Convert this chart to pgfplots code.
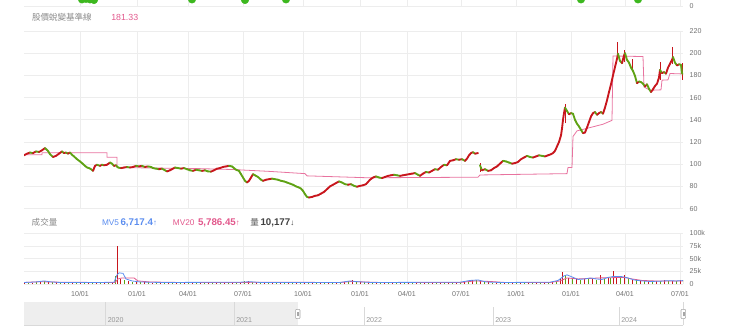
\documentclass[border=0pt]{standalone}
\usepackage{pgfplots}
\pgfplotsset{compat=1.18}
\usepackage{fontspec}
\setmainfont{Liberation Sans}
\newfontfamily\cjk{Noto Sans CJK TC}
\definecolor{candr}{HTML}{C8161D}
\definecolor{candg}{HTML}{5FA214}
\definecolor{basel}{HTML}{E8739F}
\definecolor{gridc}{HTML}{EDEDED}
\definecolor{tickc}{HTML}{707070}
\definecolor{mvblue}{HTML}{5B8DEF}
\definecolor{mvpink}{HTML}{E2588C}
\definecolor{dotg}{HTML}{3DB81F}
\definecolor{navfill}{HTML}{EEEEEE}
\definecolor{navline}{HTML}{D9D9D9}
\definecolor{hdr}{HTML}{8A8A8A}
\tikzset{yearlab/.style={anchor=base west, inner sep=0pt, font=\fontsize{5.3}{6}\selectfont, text=hdr!90}}
\pgfplotsset{
  panel/.style={
    scale only axis, width=494.25pt, xmin=24, xmax=683,
    anchor=south west,
    axis line style={draw=none}, major tick length=0pt,
    xtick={80,137,188,243,303,360,407,461,516,571,625,680},
    xmajorgrids, ymajorgrids,
    grid style={gridc, line width=0.6pt},
    ticklabel style={font=\fontsize{5.3}{6}\selectfont, text=tickc},
    /pgf/number format/assume math mode=true,
    yticklabel pos=right,
    yticklabel style={anchor=west, inner sep=0pt, xshift=4.8pt},
    xticklabel style={anchor=north, inner sep=0pt, yshift=-5.5pt},
  },
}
\begin{document}
\begin{tikzpicture}[x=1pt,y=1pt]
\useasboundingbox (0pt,0pt) rectangle (555pt,252pt);
% ---------- top strip ----------
\begin{axis}[panel, at={(18pt,247.5pt)}, height=9pt, ymin=0, ymax=1, ytick={0}, xticklabels={}, clip=false]
\addplot[only marks, mark=*, mark size=2.8pt, color=dotg, mark options={draw=none, fill=dotg}]
  coordinates {(82,0.55)(86,0.6)(90,0.55)(94,0.5)(192,0.55)(245,0.5)(286,0.55)(581,0.55)(638,0.55)};
\end{axis}
% ---------- price panel ----------
\begin{axis}[panel, at={(18pt,95.55pt)}, height=133.2pt, ymin=60, ymax=220, ytick={60,80,...,220}, xticklabels={},
  colormap={rg}{color=(candg) color=(candr)}, point meta min=0, point meta max=1]
\addplot[basel, line width=0.6pt] coordinates {
(24,108.5)(42,108.5)(42,110.3)(107,110.3)(107,106.3)(117,106.3)(117,97)(150,96.6)(200,96)(233,95.2)(270,93.5)(305,91.5)(307,89.5)(367,87.8)(420,88)(478,88.3)(480,90.3)(567,91.5)(568,97)(572,97)(573,125)(577,130)(603,136)(612,139.5)(613,197.5)(643,197)(644,169.6)(650,166.6)(661,167)(662,175.7)(668,176)(670,181.7)(683,181.3)};
\addplot[candr, line width=0.4pt, unbounded coords=jump] table[row sep=\\] {x y\\
480 93\\480 101\\480 nan\\565 137\\565 154\\565 nan\\617 195\\617 210\\617 nan\\624 192\\624 203\\624 nan\\632 185\\632 195\\632 nan\\660 176\\660 192\\660 nan\\672 190\\672 206\\672 nan\\682 176\\682 191\\};
\addplot[mesh, shader=flat corner, point meta=explicit, line width=1.4pt, line cap=round] table[meta=m, row sep=\\] {x y m\\
24 108.0 1\\27 109.5 1\\30 110.5 0\\33 110.0 1\\36 111.5 0\\39 111.0 1\\42 112.5 1\\45 114.5 0\\48 112.0 0\\50 109.0 0\\53 106.5 1\\56 107.5 1\\59 109.5 1\\62 111.5 0\\64 110.0 1\\66 110.5 0\\68 109.5 1\\70 110.5 0\\72 108.5 0\\74 107.0 0\\77 104.5 0\\80 102.5 0\\82 101.0 0\\85 98.5 0\\87 97.0 0\\89 96.5 0\\91 95.5 0\\93 94.0 1\\95 98.5 1\\97 99.5 0\\100 98.5 1\\102 99.5 0\\104 99.0 1\\107 99.5 1\\110 101.5 0\\112 100.5 0\\114 98.5 1\\116 99.0 0\\118 97.0 0\\121 96.5 1\\124 97.0 1\\127 97.5 0\\130 97.0 1\\133 97.5 1\\136 98.5 0\\139 98.0 1\\142 98.5 0\\145 97.5 1\\148 98.0 0\\151 97.5 0\\153 96.5 0\\156 96.0 0\\159 95.5 1\\162 96.0 0\\165 94.5 0\\167 93.5 1\\170 94.5 1\\172 95.5 1\\175 97.0 0\\178 96.5 0\\181 96.0 1\\184 96.5 0\\187 95.5 0\\190 94.5 0\\193 94.0 1\\196 95.0 0\\199 94.5 0\\202 94.0 1\\205 94.5 0\\208 93.5 0\\211 93.3 1\\214 94.5 1\\217 96.0 1\\220 96.5 1\\223 97.5 1\\226 98.0 1\\229 98.5 0\\232 98.0 0\\234 96.5 0\\236 95.0 0\\239 94.0 0\\241 91.0 0\\243 88.0 0\\245 85.0 0\\247 83.5 1\\249 85.0 1\\251 88.0 1\\253 91.0 0\\255 90.0 0\\258 88.5 0\\261 86.0 0\\263 85.0 1\\266 86.0 1\\269 86.5 1\\272 87.0 0\\275 86.5 0\\278 86.0 0\\281 85.0 0\\284 84.5 0\\287 83.5 0\\290 82.5 0\\293 81.5 0\\296 80.0 0\\299 79.0 0\\301 78.0 0\\303 76.0 0\\305 73.0 0\\307 70.5 0\\309 70.0 1\\312 70.5 1\\315 71.5 1\\318 72.0 1\\321 73.5 1\\324 75.0 1\\327 77.5 1\\330 80.0 1\\333 81.5 1\\336 83.0 1\\339 84.5 0\\342 83.5 0\\345 82.0 0\\348 81.5 1\\351 82.0 0\\354 80.5 0\\357 79.7 1\\360 80.5 1\\363 81.0 1\\366 82.0 1\\368 84.0 1\\370 86.0 1\\373 88.0 1\\376 89.0 0\\379 88.0 0\\382 87.5 1\\385 88.5 1\\388 89.5 1\\391 90.0 1\\394 90.5 0\\397 90.0 0\\400 89.5 1\\403 90.0 1\\406 90.5 1\\409 91.0 1\\412 91.5 1\\415 92.0 0\\418 90.5 0\\420 89.5 1\\423 91.5 1\\426 93.0 0\\429 92.5 1\\432 94.0 1\\435 95.5 0\\438 95.0 1\\441 97.5 1\\444 99.5 0\\447 99.0 1\\450 103.0 1\\453 103.5 1\\456 104.5 0\\459 104.0 1\\462 104.5 0\\465 103.0 1\\467 105.0 1\\469 108.0 1\\471 110.0 1\\473 110.8 0\\475 109.5 1\\478 110.0 0\\};
\addplot[mesh, shader=flat corner, point meta=explicit, line width=1.4pt, line cap=round] table[meta=m, row sep=\\] {x y m\\
480 99.0 0\\482 94.5 1\\485 95.5 0\\488 94.0 1\\491 94.5 1\\494 96.5 1\\497 98.0 1\\500 100.5 1\\503 103.0 0\\506 102.5 0\\509 101.5 0\\512 100.5 1\\515 101.0 1\\518 102.0 1\\521 104.5 1\\524 106.0 1\\527 107.5 0\\530 106.5 0\\533 106.0 1\\536 107.0 1\\539 108.0 0\\542 107.5 0\\545 107.0 1\\548 108.0 1\\551 109.0 1\\553 110.0 1\\555 112.0 1\\557 116.0 1\\559 120.0 1\\561 126.0 1\\562 132.0 1\\563 140.0 1\\564 146.0 1\\565 151.0 0\\567 148.0 0\\569 145.0 1\\571 146.0 0\\573 145.5 0\\575 140.0 0\\577 136.5 0\\579 134.0 0\\581 131.0 0\\583 128.0 1\\585 128.5 1\\587 133.0 1\\589 138.0 1\\591 143.0 1\\593 146.0 1\\595 147.0 0\\597 144.5 1\\599 146.0 1\\601 147.0 0\\603 145.5 1\\605 151.0 1\\607 157.5 1\\609 165.0 1\\611 172.0 1\\613 180.0 1\\615 187.5 1\\617 195.0 1\\618 199.5 0\\620 193.0 0\\622 191.0 1\\624 198.0 1\\625 200.0 0\\627 194.0 0\\629 191.5 0\\631 187.0 0\\633 184.0 0\\635 179.5 0\\637 173.0 1\\639 174.5 0\\641 174.0 0\\643 172.5 0\\645 170.0 1\\647 172.0 0\\649 168.0 0\\651 165.0 1\\653 167.5 1\\655 170.5 1\\657 172.5 1\\659 178.0 1\\660 185.0 0\\662 182.0 1\\664 183.0 0\\666 181.5 1\\668 187.0 1\\670 190.5 1\\672 194.0 1\\673 196.5 0\\675 191.5 0\\677 189.0 1\\679 190.0 0\\681 189.5 0\\682 182.0 0\\683 181.3 0\\};
\end{axis}
% ---------- volume panel ----------
\begin{axis}[panel, at={(18pt,39pt)}, height=38pt, ymin=0, ymax=100, ytick={0,25,50,75,100}, yticklabels={0,25k,50k,75k,100k},
  xticklabels={10/01,01/01,04/01,07/01,10/01,01/01,04/01,07/01,10/01,01/01,04/01,07/01}]
\addplot[ycomb, candr, line width=0.75pt, mark=none] table[row sep=\\] {x v\\
24 3\\32 2.5\\40 6\\48 4\\56 3\\64 2.5\\72 3\\80 2.5\\88 3.5\\96 3\\104 2.5\\112 3\\117 75\\120 10\\128 5\\136 4\\144 3\\152 2.5\\160 3.5\\168 4\\176 3\\184 2.5\\192 3\\200 2.5\\208 2\\216 2.5\\224 3\\232 2.5\\240 4\\248 5\\256 3\\264 2.5\\272 2\\280 2.5\\288 2\\296 2.5\\304 3\\312 3.5\\320 2.5\\328 3\\336 2.5\\344 4\\352 8\\360 3\\368 3.5\\376 2.5\\384 2\\392 2.5\\400 3\\408 2.5\\416 3\\424 2.5\\432 3\\440 2.5\\448 3.5\\456 3\\464 5\\472 8\\480 6\\488 3\\496 2.5\\504 3\\512 2\\520 2.5\\528 2\\536 2.5\\544 3\\552 4\\560 10\\562 24\\568 12\\576 9\\584 10\\592 9\\600 18\\608 11\\613 25\\616 14\\624 17\\632 9\\640 7\\648 5\\656 6\\664 7\\672 6\\680 8\\};
\addplot[ycomb, candg, line width=0.75pt, mark=none] table[row sep=\\] {x v\\
28 2.5\\36 3\\44 5\\52 3\\60 2.5\\68 3\\76 2\\84 3\\92 2.5\\100 3\\108 2.5\\115 15\\124 8\\132 4\\140 3\\148 3\\156 2.5\\164 3\\172 2.5\\180 3\\188 2\\196 2.5\\204 3\\212 2\\220 2.5\\228 2\\236 3\\244 5\\252 4\\260 2.5\\268 3\\276 2\\284 2.5\\292 3\\300 2.5\\308 4\\316 3\\324 2.5\\332 2\\340 3\\348 6\\356 5\\364 3\\372 2.5\\380 3\\388 2\\396 3\\404 2\\412 2.5\\420 2\\428 2.5\\436 3\\444 2\\452 3\\460 3.5\\468 6\\476 7\\484 4\\492 2.5\\500 3\\508 2.5\\516 3\\524 2\\532 2.5\\540 2\\548 3\\556 6\\565 18\\572 10\\580 8\\588 12\\596 8\\604 10\\610 12\\620 15\\628 11\\636 8\\644 6\\652 5\\660 5\\668 6\\676 5\\683 7\\};
\addplot[mvpink, line width=0.6pt] coordinates {
(24,3)(40,4.5)(60,3.5)(100,3)(115,3)(118,10)(122,12)(134,12)(138,6)(150,4)(180,3)(240,3)(260,3.5)(340,3)(352,5)(364,4)(380,3)(460,3)(475,6)(490,5)(505,3)(550,3)(560,6)(567,12)(578,10)(590,11)(600,12)(612,12.5)(624,13)(632,10)(642,7)(655,6)(670,5.8)(683,5.8)};
\addplot[mvblue, line width=0.6pt] coordinates {
(24,3)(36,4)(44,6)(52,4)(60,3)(100,3)(114,3.5)(117,18)(119,22)(123,21)(126,10)(132,6)(140,4)(160,3)(240,3.5)(250,4.5)(260,3)(340,3)(350,6)(358,4.5)(370,3)(460,3.5)(470,7)(478,8)(486,4)(500,3)(550,3.5)(558,7)(564,16)(567,18)(572,14)(578,9)(585,10)(590,12)(596,10)(602,9)(608,13)(614,15)(622,14.5)(628,12)(634,8)(642,6)(650,5)(660,5.5)(668,6.5)(676,6)(683,6.7)};
\end{axis}
% ---------- navigator ----------
\begin{axis}[scale only axis, width=494.25pt, height=17.25pt, at={(18pt,8.25pt)}, anchor=south west,
  xmin=24, xmax=683, ymin=0, ymax=1, hide axis, clip=false]
\addplot[draw=none, fill=navfill] coordinates {(24,0)(298,0)(298,1)(24,1)} -- cycle;
\addplot[navline, line width=0.6pt, unbounded coords=jump] table[row sep=\\] {x y\\
105 0\\105 1\\105 nan\\234 0\\234 1\\234 nan\\364 0\\364 0.8\\364 nan\\493 0\\493 0.8\\493 nan\\619 0\\619 0.8\\619 nan\\683 0\\683 1\\};
\draw[navline, line width=0.6pt] (axis cs:24,0) -- (axis cs:683,0);
\node[yearlab] at (axis cs:107.5,0.09) {2020};
\node[yearlab] at (axis cs:236,0.09) {2021};
\node[yearlab] at (axis cs:366,0.09) {2022};
\node[yearlab] at (axis cs:495,0.09) {2023};
\node[yearlab] at (axis cs:621,0.09) {2024};
\draw[fill=white, draw=gray!70, rounded corners=0.6pt, line width=0.4pt] (axis cs:295.6,0.28) rectangle (axis cs:300,0.68);
\draw[gray!70, line width=0.3pt] (axis cs:297.2,0.38) -- (axis cs:297.2,0.58) (axis cs:298.5,0.38) -- (axis cs:298.5,0.58);
\draw[fill=white, draw=gray!70, rounded corners=0.6pt, line width=0.4pt] (axis cs:681,0.28) rectangle (axis cs:685.6,0.68);
\draw[gray!70, line width=0.3pt] (axis cs:682.7,0.38) -- (axis cs:682.7,0.58) (axis cs:684,0.38) -- (axis cs:684,0.58);
\end{axis}
% ---------- header texts ----------
\node[anchor=base west, inner sep=0pt, font=\cjk\fontsize{6.4}{7}\selectfont, text=hdr] at (23.8pt,236.5pt) {股價蛻變基準線};
\node[anchor=base west, inner sep=0pt, font=\fontsize{6.6}{7}\selectfont, text=mvpink] at (83.25pt,236.5pt) {181.33};
\node[anchor=base west, inner sep=0pt, font=\cjk\fontsize{6.4}{7}\selectfont, text=hdr] at (23.6pt,83.1pt) {成交量};
\node[anchor=base west, inner sep=0pt, font=\fontsize{6.2}{7}\selectfont, text=mvblue] at (76.3pt,83.1pt) {MV5};
\node[anchor=base west, inner sep=0pt, font=\fontsize{7.3}{8}\selectfont, text=mvblue] at (90.2pt,83.1pt) {\bfseries 6,717.4{\fontsize{6}{7}\selectfont\mdseries ↑}};
\node[anchor=base west, inner sep=0pt, font=\fontsize{6.2}{7}\selectfont, text=mvpink] at (129.5pt,83.1pt) {MV20};
\node[anchor=base west, inner sep=0pt, font=\fontsize{7.3}{8}\selectfont, text=mvpink] at (148.3pt,83.1pt) {\bfseries 5,786.45{\fontsize{6}{7}\selectfont\mdseries ↑}};
\node[anchor=base west, inner sep=0pt, font=\cjk\fontsize{6.4}{7}\selectfont, text=black!65] at (187.5pt,83.1pt) {量};
\node[anchor=base west, inner sep=0pt, font=\fontsize{7.3}{8}\selectfont, text=black!75] at (195.2pt,83.1pt) {\bfseries 10,177{\fontsize{6}{7}\selectfont\mdseries ↓}};
\end{tikzpicture}
\end{document}
